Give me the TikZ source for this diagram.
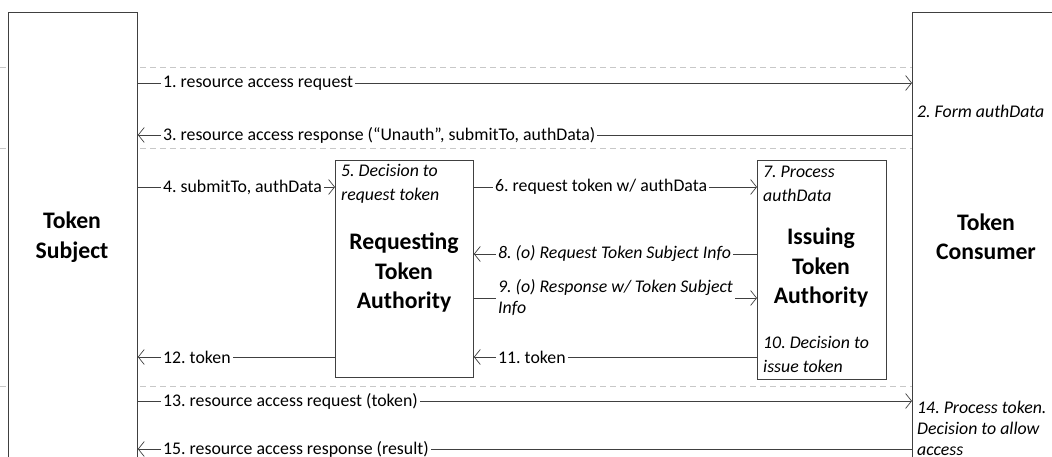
\documentclass[tikz,border=0pt]{standalone}
\usepackage{fontspec}
\setmainfont{Carlito}
\frenchspacing
\usetikzlibrary{arrows.meta}
\definecolor{linec}{RGB}{64,64,64}
\definecolor{dashc}{RGB}{200,200,200}
\newcommand\lblf{\fontsize{17.8}{21}\selectfont}
\newcommand\itf{\fontsize{17.8}{24}\selectfont\itshape}
\newcommand\itg{\fontsize{17.8}{21}\selectfont\itshape}
\newcommand\bigf{\fontsize{23.7}{29.5}\selectfont\bfseries}
\begin{document}
\begin{tikzpicture}[x=1pt,y=-1pt,
  box/.style={draw=linec, fill=white, line width=0.8pt, inner sep=0pt, anchor=north west},
  arr/.style={draw=linec, line width=0.7pt, -{Straight Barb[length=6pt,width=15pt,line width=0.7pt]}},
  sep/.style={draw=dashc, line width=0.8pt, dash pattern=on 6pt off 4pt},
  lbl/.style={fill=white, inner xsep=2pt, inner ysep=1pt, font=\lblf, text=black},
  ilbl/.style={fill=white, inner xsep=2pt, inner ysep=1pt, font=\itg, text=black, align=left},
  big/.style={font=\bigf, align=center, inner sep=0pt},
  note/.style={font=\itf, align=left, inner sep=0pt},
  noteb/.style={font=\itg, align=left, inner sep=0pt}]
\useasboundingbox (0,0) rectangle (1052,457);
% separators
\coordinate (d1a) at (0,67);   \coordinate (d1b) at (912,67);
\coordinate (d2a) at (0,148);  \coordinate (d2b) at (912,148);
\coordinate (d3a) at (0,386);  \coordinate (d3b) at (912,386);
\draw[sep] (d1a) -- (d1b);
\draw[sep] (d2a) -- (d2b);
\draw[sep] (d3a) -- (d3b);
% boxes
\node[box, minimum width=129pt, minimum height=460pt] (TS) at (8,12) {};
\node[box, minimum width=160pt, minimum height=460pt] (TC) at (912,12) {};
\node[box, minimum width=138pt, minimum height=217pt] (RTA) at (335,160) {};
\node[box, minimum width=129pt, minimum height=219pt] (ITA) at (757,160) {};
% box texts
\node[big] (TSt) at (72,237) {Token\\Subject};
\node[big] (TCt) at (986,237) {Token\\Consumer};
\node[big] (RTAt) at (404,273) {Requesting\\Token\\Authority};
\node[big] (ITAt) at (821,268) {Issuing\\Token\\Authority};
\node[note, anchor=west] (n5) at (341,184) {5. Decision to\\request token};
\node[note, anchor=west] (n7) at (763,184) {7. Process\\authData};
\node[note, anchor=west] (n10) at (763,354) {10. Decision to\\issue token};
\node[noteb, anchor=west] (n2) at (917,111) {2. Form authData};
\node[noteb, anchor=west] (n14) at (917,428) {14. Process token.\\Decision to allow\\access};
% messages
\draw[arr] (TS.east |- 0,83) -- node[lbl, at start, anchor=west, xshift=23pt] {1. resource access request} (TC.west |- 0,83);
\draw[arr] (TC.west |- 0,135) -- node[lbl, at end, anchor=west, xshift=23pt] {3. resource access response (“Unauth”, submitTo, authData)} (TS.east |- 0,135);
\draw[arr] (TS.east |- 0,187) -- node[lbl, at start, anchor=west, xshift=23pt] {4. submitTo, authData} (RTA.west |- 0,187);
\draw[arr] (RTA.east |- 0,187) -- node[lbl, at start, anchor=west, xshift=19pt] {6. request token w/ authData} (ITA.west |- 0,187);
\draw[arr] (ITA.west |- 0,254) -- node[ilbl, at end, anchor=west, xshift=22pt] {8. (o) Request Token Subject Info} (RTA.east |- 0,254);
\draw[arr] (RTA.east |- 0,298) -- node[ilbl, at start, anchor=west, xshift=22pt] {9. (o) Response w/ Token Subject\\Info} (ITA.west |- 0,298);
\draw[arr] (ITA.west |- 0,357) -- node[lbl, at end, anchor=west, xshift=22pt] {11. token} (RTA.east |- 0,357);
\draw[arr] (RTA.west |- 0,357) -- node[lbl, at end, anchor=west, xshift=23pt] {12. token} (TS.east |- 0,357);
\draw[arr] (TS.east |- 0,401) -- node[lbl, at start, anchor=west, xshift=23pt] {13. resource access request (token)} (TC.west |- 0,401);
\draw[arr] (TC.west |- 0,449) -- node[lbl, at end, anchor=west, xshift=23pt] {15. resource access response (result)} (TS.east |- 0,449);
\end{tikzpicture}
\end{document}
